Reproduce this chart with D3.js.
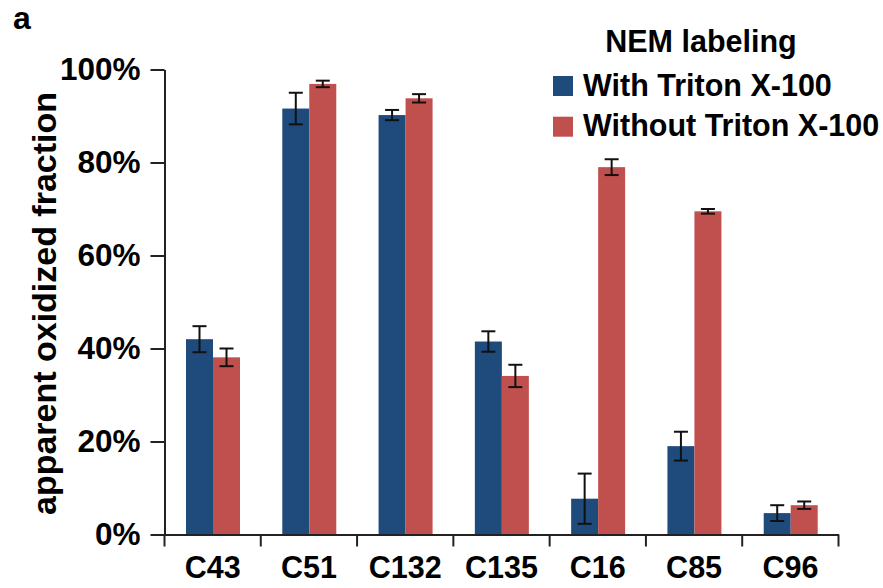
<!DOCTYPE html>
<html>
<head>
<meta charset="utf-8">
<script src="https://cdn.jsdelivr.net/npm/d3@7"></script>
<style>
  html, body { margin: 0; padding: 0; background: #fff; }
  text { font-family: "Liberation Sans", Arial, Helvetica, sans-serif; font-weight: bold; fill: #000; }
</style>
</head>
<body>
<svg id="chart" width="883" height="588"></svg>
<script>
const categories = ["C43", "C51", "C132", "C135", "C16", "C85", "C96"];
const seriesNames = ["With Triton X-100", "Without Triton X-100"];
const withTriton = [42.0, 91.6, 90.2, 41.5, 7.7, 19.0, 4.6];
const withTritonErr = [2.8, 3.4, 1.1, 2.2, 5.4, 3.1, 1.7];
const withoutTriton = [38.1, 96.9, 93.8, 34.1, 79.0, 69.5, 6.3];
const withoutTritonErr = [1.9, 0.7, 0.9, 2.4, 1.7, 0.5, 0.8];
const yTicks = [0, 20, 40, 60, 80, 100];
const colors = ["#1f4a7c", "#c0504d"];

const svg = d3.select("#chart");
const x0 = 164.5, x1 = 838.5, y0 = 534.5, y1 = 69.5;

const x = d3.scaleBand().domain(categories).range([x0, x1]).padding(0);
const xs = d3.scaleBand().domain(seriesNames).range([21.5, 75.5]).padding(0);
const y = d3.scaleLinear().domain([0, 100]).range([y0, y1]);

const data = categories.map((c, i) => ({
  cat: c,
  vals: [
    { s: seriesNames[0], v: withTriton[i], e: withTritonErr[i], c: colors[0] },
    { s: seriesNames[1], v: withoutTriton[i], e: withoutTritonErr[i], c: colors[1] }
  ]
}));

// bars
const g = svg.append("g");
const groups = g.selectAll("g.grp").data(data).enter().append("g")
  .attr("transform", d => `translate(${x(d.cat)},0)`);
groups.selectAll("rect").data(d => d.vals).enter().append("rect")
  .attr("x", d => xs(d.s))
  .attr("width", xs.bandwidth())
  .attr("y", d => y(d.v))
  .attr("height", d => y(0) - y(d.v))
  .attr("fill", d => d.c);

// error bars
const eb = groups.selectAll("g.eb").data(d => d.vals).enter().append("g")
  .attr("stroke", "#111").attr("stroke-width", 2).attr("fill", "none");
const cx = d => xs(d.s) + xs.bandwidth() / 2;
eb.append("line").attr("x1", cx).attr("x2", cx)
  .attr("y1", d => y(d.v + d.e)).attr("y2", d => y(d.v - d.e));
eb.append("line").attr("x1", d => cx(d) - 7).attr("x2", d => cx(d) + 7)
  .attr("y1", d => y(d.v + d.e)).attr("y2", d => y(d.v + d.e));
eb.append("line").attr("x1", d => cx(d) - 7).attr("x2", d => cx(d) + 7)
  .attr("y1", d => y(d.v - d.e)).attr("y2", d => y(d.v - d.e));

// y axis
const yAxis = d3.axisLeft(y).tickValues(yTicks).tickFormat(d => d + "%").tickSize(14).tickSizeOuter(0).tickPadding(10);
const ya = svg.append("g").attr("transform", `translate(${x0},0)`).call(yAxis);
ya.select(".domain").attr("stroke", "#222").attr("stroke-width", 2);
ya.selectAll(".tick line").attr("stroke", "#222").attr("stroke-width", 2);
ya.selectAll(".tick text").style("font-size", "31.5px").style("font-family", "Liberation Sans, Arial, sans-serif").style("font-weight", "bold").attr("fill", "#000");

// x axis
const xAxis = d3.axisBottom(x).tickSize(0).tickPadding(0);
const xa = svg.append("g").attr("transform", `translate(0,${y0})`).call(xAxis);
xa.select(".domain").attr("stroke", "#222").attr("stroke-width", 2);
xa.selectAll(".tick text").attr("y", 43.5).attr("dy", 0)
  .style("font-size", "30.5px").style("font-family", "Liberation Sans, Arial, sans-serif").style("font-weight", "bold").attr("fill", "#000");
// boundary ticks between categories
const bounds = categories.map(c => x(c)).concat([x1]);
xa.selectAll("line.bt").data(bounds).enter().append("line")
  .attr("x1", d => d).attr("x2", d => d).attr("y1", 0).attr("y2", 12)
  .attr("stroke", "#222").attr("stroke-width", 2);

// y title
svg.append("text")
  .attr("transform", `translate(56,303.5) rotate(-90)`)
  .attr("text-anchor", "middle")
  .attr("textLength", 423).attr("lengthAdjust", "spacingAndGlyphs")
  .style("font-size", "34px")
  .text("apparent oxidized fraction");

// panel label
svg.append("text").attr("x", 13).attr("y", 29).style("font-size", "32px").text("a");

// legend
svg.append("text").attr("x", 701).attr("y", 52).attr("text-anchor", "middle").style("font-size", "30.5px").text("NEM labeling");
const leg = svg.append("g").selectAll("g").data(seriesNames).enter().append("g")
  .attr("transform", (d, i) => `translate(553,${76 + i * 40.7})`);
leg.append("rect").attr("width", 20).attr("height", 20).attr("fill", (d, i) => colors[i]);
leg.append("text").attr("x", 30).attr("y", 19.5).style("font-size", "30.5px").text(d => d);
</script>
</body>
</html>
